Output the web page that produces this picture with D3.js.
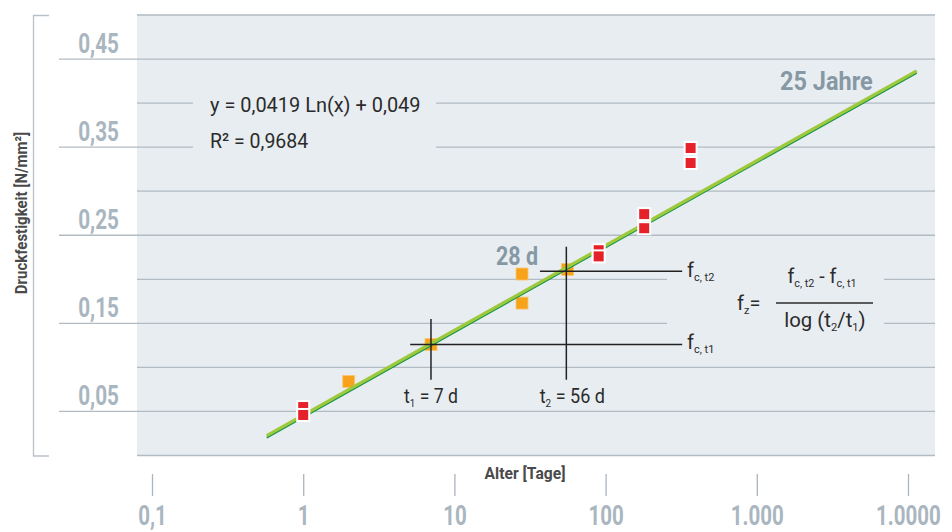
<!DOCTYPE html>
<html>
<head>
<meta charset="utf-8">
<script src="https://cdn.jsdelivr.net/npm/d3@7"></script>
<style>
  body { margin: 0; background: #fff; }
  svg { display: block; }
  text { font-family: "Roboto", "Liberation Sans", sans-serif; }
</style>
</head>
<body>
<svg id="chart" width="952" height="532"></svg>
<script>
// x axis (log, days)
const ageTicks = [0.1, 1, 10, 100, 1000, 10000];
const ageTickLabels = ["0,1", "1", "10", "100", "1.000", "1.0000"];

// y axis (N/mm²)
const gridValues = [0, 0.05, 0.1, 0.15, 0.2, 0.25, 0.3, 0.35, 0.4, 0.45, 0.5];
const labelValues = [0.05, 0.15, 0.25, 0.35, 0.45];
const labelTexts = ["0,05", "0,15", "0,25", "0,35", "0,45"];

// measured points
const redAges = [1, 1, 90, 90, 180, 180, 365, 365];
const redStrength = [0.055, 0.046, 0.233, 0.226, 0.274, 0.258, 0.349, 0.332];
const orangeAges = [2, 7, 28, 28, 56];
const orangeStrength = [0.084, 0.126, 0.206, 0.173, 0.211];

// trend line end points
const trendAges = [0.574, 11420];
const trendStrength = [0.022, 0.436];

// t1 / t2 guide lines
const markAges = [7, 55];
const markStrength = [0.126, 0.209];
const markTop = [0.155, 0.237];
const markStart = [5.1, 36.8];
const markBottom = 0.086;
const markEnd = 321;

const PANEL = "#e8edf1";
const GRID = "#b1bbc2";
const LABEL = "#a9b6bf";
const INK = "#2b2b2b";

const svg = d3.select("#chart");
const panel = { left: 137, right: 935, top: 15, bottom: 455.5 };

const x = d3.scaleLog().domain([0.1, 10000]).range([152, 908]);
const y = d3.scaleLinear().domain([0, 0.5]).range([455.5, 15]);

// condensed text: the font is squeezed horizontally around its anchor
let squeezed = (px, py, k) => svg.append("text")
    .attr("transform", `translate(${px},${py}) scale(${k},1)`);

svg.append("rect")
    .attr("x", panel.left).attr("y", panel.top)
    .attr("width", panel.right - panel.left)
    .attr("height", panel.bottom - panel.top)
    .attr("fill", PANEL);

let isLabeled = d => labelValues.some(v => Math.abs(v - d) < 1e-9);

svg.append("g").selectAll("line")
    .data(gridValues)
    .join("line")
    .attr("x1", d => isLabeled(d) ? 59 : panel.left)
    .attr("x2", panel.right)
    .attr("y1", d => y(d)).attr("y2", d => y(d))
    .attr("stroke", GRID)
    .attr("stroke-width", 1.3);

labelValues.forEach((v, i) => {
    squeezed(119, y(v) - 6, 0.74)
        .attr("text-anchor", "end")
        .attr("font-size", 28)
        .attr("font-weight", "bold")
        .attr("fill", LABEL)
        .text(labelTexts[i]);
});

// boxes behind the equation and the formula
svg.append("rect").attr("x", 193).attr("y", 88).attr("width", 243).attr("height", 72).attr("fill", PANEL);
svg.append("rect").attr("x", 667).attr("y", 255).attr("width", 217).attr("height", 85).attr("fill", PANEL);

// bracket + y title
svg.append("path")
    .attr("d", "M49,15.5H33.5V456H49")
    .attr("fill", "none")
    .attr("stroke", "#b9c1c7")
    .attr("stroke-width", 1.3);

svg.append("text")
    .attr("transform", "translate(27,213) rotate(-90) scale(0.88,1)")
    .attr("text-anchor", "middle")
    .attr("font-size", 17)
    .attr("font-weight", "bold")
    .attr("fill", "#4a4a4a")
    .text("Druckfestigkeit [N/mm²]");

// x axis
const xAxis = svg.append("g")
    .attr("transform", "translate(0,474)")
    .call(d3.axisBottom(x)
        .tickValues(ageTicks)
        .tickFormat((d, i) => ageTickLabels[i])
        .tickSize(22));
xAxis.select(".domain").remove();
xAxis.selectAll(".tick line").attr("stroke", "#aab5bd").attr("stroke-width", 1.3);
xAxis.selectAll(".tick text")
    .attr("y", 51).attr("dy", 0)
    .attr("transform", "scale(0.76,1)")
    .attr("font-family", null)
    .attr("font-size", 27)
    .attr("font-weight", "bold")
    .attr("fill", LABEL);

squeezed(525, 479, 0.92)
    .attr("text-anchor", "middle")
    .attr("font-size", 17)
    .attr("font-weight", "bold")
    .attr("fill", "#4a4a4a")
    .text("Alter [Tage]");

// orange points
svg.append("g").selectAll("rect")
    .data(d3.zip(orangeAges, orangeStrength))
    .join("rect")
    .attr("x", d => x(d[0]) - 6).attr("y", d => y(d[1]) - 6)
    .attr("width", 12).attr("height", 12)
    .attr("fill", "#f7a21b")
    .attr("stroke", "#fbc673")
    .attr("stroke-width", 0.8);

// trend line: lime band with a dark green lower edge
const trendLine = d3.line().x(d => x(d[0])).y(d => y(d[1]));
const trendData = d3.zip(trendAges, trendStrength);
svg.append("path")
    .attr("d", trendLine(trendData))
    .attr("transform", "translate(0,1.5)")
    .attr("stroke", "#16954a").attr("stroke-width", 1.8).attr("fill", "none");
svg.append("path")
    .attr("d", trendLine(trendData))
    .attr("transform", "translate(0,-0.5)")
    .attr("stroke", "#9fc93c").attr("stroke-width", 3.2).attr("fill", "none");

// red points with white frame
const reds = svg.append("g").selectAll("g")
    .data(d3.zip(redAges, redStrength))
    .join("g")
    .attr("transform", d => `translate(${x(d[0])},${y(d[1])})`);
reds.append("rect").attr("x", -7).attr("y", -7).attr("width", 14).attr("height", 14).attr("fill", "#fff");
reds.append("rect").attr("x", -5).attr("y", -5).attr("width", 10).attr("height", 10).attr("fill", "#e52129");

// t1 / t2 guides
markAges.forEach((age, i) => {
    svg.append("line")
        .attr("x1", x(markStart[i])).attr("x2", x(markEnd))
        .attr("y1", y(markStrength[i])).attr("y2", y(markStrength[i]))
        .attr("stroke", "#222").attr("stroke-width", 1.5);
    svg.append("line")
        .attr("x1", x(age)).attr("x2", x(age))
        .attr("y1", y(markTop[i])).attr("y2", y(markBottom))
        .attr("stroke", "#222").attr("stroke-width", 1.5);
});

// text with subscripts: parts = [[text, "sub"|undefined], ...]
let richText = (px, py, parts, size, k, anchor) => {
    const t = squeezed(px, py, k)
        .attr("font-size", size)
        .attr("fill", INK)
        .attr("text-anchor", anchor || "start");
    let shift = 0;
    parts.forEach(([s, kind]) => {
        const want = kind === "sub" ? 4 : 0;
        t.append("tspan")
            .attr("dy", want - shift)
            .attr("font-size", kind === "sub" ? size * 0.55 : size)
            .text(s);
        shift = want;
    });
    return t;
};

richText(210, 112, [["y = 0,0419 Ln(x) + 0,049"]], 21, 0.95);
richText(210, 148, [["R² = 0,9684"]], 21, 0.93);

richText(687, 277, [["f"], ["c, t2", "sub"]], 21, 0.95);
richText(687, 349, [["f"], ["c, t1", "sub"]], 21, 0.95);

richText(x(7), 403, [["t"], ["1", "sub"], [" = 7 d"]], 21, 0.84, "middle");
richText(x(55) + 6, 403, [["t"], ["2", "sub"], [" = 56 d"]], 21, 0.86, "middle");

// f_z formula
richText(737, 310, [["f"], ["z", "sub"], ["= "]], 21, 0.95);
richText(822, 283, [["f"], ["c, t2", "sub"], [" - f"], ["c, t1", "sub"]], 21, 0.94, "middle");
svg.append("line")
    .attr("x1", 776).attr("x2", 873).attr("y1", 303).attr("y2", 303)
    .attr("stroke", INK).attr("stroke-width", 1.3);
richText(825, 327, [["log (t"], ["2", "sub"], ["/t"], ["1", "sub"], [")"]], 21, 0.97, "middle");

// grey annotations
squeezed(x(28) - 26, 265, 0.86)
    .attr("font-size", 25).attr("font-weight", "bold").attr("fill", "#8798a5")
    .text("28 d");
squeezed(780, 90, 0.94)
    .attr("font-size", 25).attr("font-weight", "bold").attr("fill", "#8798a5")
    .text("25 Jahre");
</script>
</body>
</html>
